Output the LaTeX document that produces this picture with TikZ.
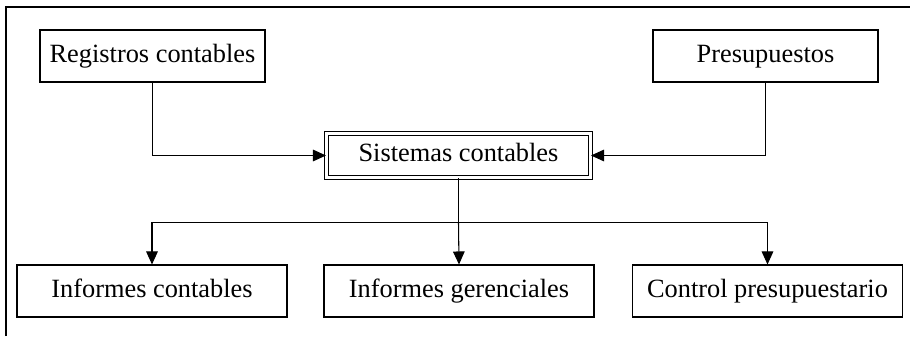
\documentclass[tikz,border=0pt]{standalone}
\usepackage{fontspec}
\setmainfont{Liberation Serif}
\usetikzlibrary{arrows.meta}

\begin{document}
\begin{tikzpicture}[
        line width=0.6pt,
        box/.style={draw, minimum width=4.5cm, minimum height=1.04cm, inner sep=0pt,
            text height=10.5pt, text depth=3.2pt},
        boxlow/.style={box, minimum width=5.4cm},
        boxdouble/.style={box, double, double distance=1.4pt, minimum width=5.28cm, minimum height=0.88cm},
        arr/.style={-{Triangle[length=7.4pt,width=6.6pt]}},
        font=\fontsize{15}{18}\selectfont
    ]
        \useasboundingbox (0,0) rectangle (18.2,6.72);

        %%%%%%%%%% Cornice %%%%%%%%%%
        \draw (0.12,0) -- (0.12,6.58) -- (18.2,6.58);

        %%%%%%%%%% Blocchi %%%%%%%%%%
        \node[box] (reg) at (3.05,5.6) {Registros contables};
        \node[box] (pre) at (15.31,5.6) {Presupuestos};
        \node[boxdouble] (sis) at (9.17,3.61) {Sistemas contables};

        \node[boxlow] (inc) at (3.04,0.9) {Informes contables};
        \node[boxlow] (ing) at (9.18,0.9) {Informes gerenciales};
        \node[boxlow] (cpr) at (15.35,0.9) {Control presupuestario};

        \coordinate (bus) at (9.17,2.27);

        %%%%%%%%%% Frecce %%%%%%%%%%
        \draw[arr] (reg.south) |- (sis.west);
        \draw[arr] (pre.south) |- (sis.east);
        \draw (sis.south) -- (bus);
        \draw[arr] (bus) -| (inc.north);
        \draw[arr] (bus) -| (cpr.north);
        \draw[arr] (bus) -- (ing.north);
    \end{tikzpicture}
\end{document}
